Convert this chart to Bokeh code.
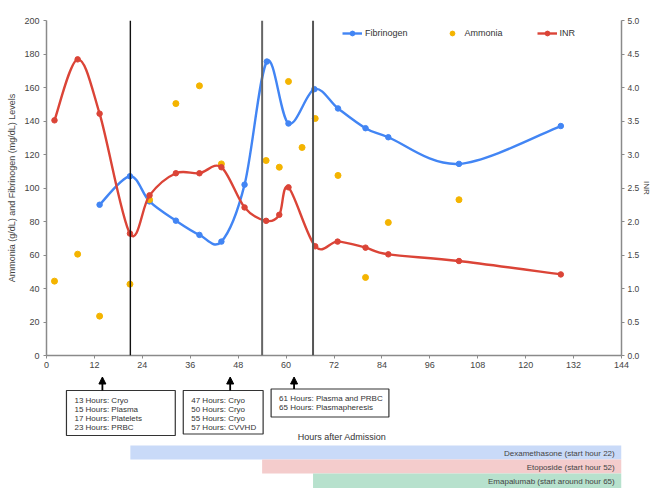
import numpy as np
from bokeh.plotting import figure
from bokeh.models import (Range1d, LinearAxis, FixedTicker, PrintfTickFormatter, Span,
                          Legend, LegendItem, Arrow, NormalHead)
from bokeh.layouts import column
from bokeh.embed import file_html
from bokeh.resources import INLINE
from bokeh.core.properties import value

# ---------------- data ----------------
fib_hours = [13.3, 20.9, 25.8, 32.4, 38.3, 43.8, 49.6, 55.2, 60.6, 67.1, 73.0, 79.9, 85.6, 103.3, 128.8]
fibrinogen = [90, 107, 92, 80.5, 72, 68, 102, 175.5, 138.5, 159, 147.5, 135.7, 130.3, 114.4, 137]

amm_hours = [2.0, 7.8, 13.3, 20.9, 25.8, 32.4, 38.3, 43.8, 55.0, 58.3, 60.6, 64.0, 67.3, 73.0, 79.9, 85.6, 103.3]
ammonia = [44.4, 60.5, 23.5, 42.6, 93, 150.4, 161, 114.4, 116.4, 112.4, 163.6, 124.2, 141.5, 107.5, 46.6, 79.4, 93]

inr_hours = [2.0, 7.8, 13.3, 20.9, 25.8, 32.4, 38.3, 43.8, 49.6, 55.0, 58.3, 60.6, 67.3, 72.9, 79.9, 85.6, 103.3, 128.8]
inr = [3.51, 4.42, 3.61, 1.82, 2.39, 2.72, 2.72, 2.81, 2.21, 2.01, 2.10, 2.51, 1.63, 1.70, 1.61, 1.51, 1.41, 1.21]

event_hours = [21, 54, 66.75]          # vertical marker lines / drug start
x_ticks = list(range(0, 145, 12))
left_ticks = list(range(0, 201, 20))
inr_ticks = [0.0, 0.5, 1.0, 1.5, 2.0, 2.5, 3.0, 3.5, 4.0, 4.5, 5.0]

arrow_hours = [14, 46, 62]
box_texts = [
    ["13 Hours: Cryo", "15 Hours: Plasma", "17 Hours: Platelets", "23 Hours: PRBC"],
    ["47 Hours: Cryo", "50 Hours: Cryo", "55 Hours: Cryo", "57 Hours: CVVHD"],
    ["61 Hours: Plasma and PRBC", "65 Hours: Plasmapheresis"],
]
drug_labels = ["Dexamethasone (start hour 22)", "Etoposide (start hour 52)",
               "Emapalumab (start around hour 65)"]
drug_start = event_hours

# ---------------- style / layout ----------------
FONT = "Liberation Sans"
BLUE, RED, YELLOW = "#4285F4", "#DB4437", "#F4B400"
BAR_COLORS = ["#c9daf8", "#f4cccc", "#b7e1cd"]
W = 654
LB, RB = 46, 33
H1, H2 = 375, 113


def smooth(xs, ys):
    """Cubic Bezier control points (Catmull-Rom style, like spreadsheet 'smooth line')."""
    x = np.asarray(xs, float)
    y = np.asarray(ys, float)
    px = np.concatenate([[x[0]], x, [x[-1]]])
    py = np.concatenate([[y[0]], y, [y[-1]]])
    i = np.arange(len(x) - 1)
    cx0 = px[i + 1] + (px[i + 2] - px[i]) / 6
    cy0 = py[i + 1] + (py[i + 2] - py[i]) / 6
    cx1 = px[i + 2] - (px[i + 3] - px[i + 1]) / 6
    cy1 = py[i + 2] - (py[i + 3] - py[i + 1]) / 6
    return dict(x0=x[:-1], y0=y[:-1], x1=x[1:], y1=y[1:], cx0=cx0, cy0=cy0, cx1=cx1, cy1=cy1)


p = figure(width=W, height=H1, x_range=Range1d(0, 144), y_range=Range1d(0, 200),
           output_backend="svg", toolbar_location=None,
           min_border_left=LB, min_border_right=RB, min_border_top=20, min_border_bottom=20)
p.outline_line_color = None
p.grid.visible = False
p.background_fill_color = "white"
p.extra_y_ranges = {"inr": Range1d(0, 5)}

ax_col = "#8a8a8a"
lab_col = "#444444"

xa = p.xaxis[0]
xa.ticker = FixedTicker(ticks=x_ticks)
ya = p.yaxis[0]
ya.ticker = FixedTicker(ticks=left_ticks)
ya.axis_label = "Ammonia (g/dL) and Fibrinogen (mg/dL) Levels"
ya.axis_label_standoff = 4

ra = LinearAxis(y_range_name="inr", ticker=FixedTicker(ticks=inr_ticks),
                formatter=PrintfTickFormatter(format="%.1f"))
ra.axis_label = "INR"
p.add_layout(ra, "right")

for ax in (xa, ya, ra):
    ax.axis_line_color = ax_col
    ax.axis_line_width = 1.5
    ax.major_tick_line_color = ax_col
    ax.major_tick_in = 0
    ax.major_tick_out = 3
    ax.minor_tick_line_color = None
    ax.major_label_text_font = FONT
    ax.major_label_text_font_size = "9px"
    ax.major_label_text_color = lab_col
    ax.major_label_standoff = 4
    ax.axis_label_text_font_style = "normal"
    ax.axis_label_text_font = FONT
    ax.axis_label_text_font_size = "9px"
    ax.axis_label_text_color = lab_col
xa.major_label_standoff = 3
ra.major_label_standoff = 3
ra.axis_label_standoff = 0
ra.major_label_text_font_size = "8.5px"
ra.axis_label_text_font_size = "8px"

for h, c, w in zip(event_hours, ["#111111", "#666666", "#555555"], [1.4, 2, 2]):
    p.add_layout(Span(location=h, dimension="height", line_color=c, line_width=w))

fib_line = p.bezier(source=smooth(fib_hours, fibrinogen), x0="x0", y0="y0", x1="x1", y1="y1",
                    cx0="cx0", cy0="cy0", cx1="cx1", cy1="cy1", line_color=BLUE, line_width=2.4)
fib_pts = p.scatter(fib_hours, fibrinogen, size=5.5, color=BLUE)
amm_pts = p.scatter(amm_hours, ammonia, size=6, color=YELLOW)
inr_line = p.bezier(source=smooth(inr_hours, inr), x0="x0", y0="y0", x1="x1", y1="y1",
                    cx0="cx0", cy0="cy0", cx1="cx1", cy1="cy1", line_color=RED, line_width=2.4,
                    y_range_name="inr")
inr_pts = p.scatter(inr_hours, inr, size=5.5, color=RED, y_range_name="inr")

legend = Legend(items=[LegendItem(label="Fibrinogen", renderers=[fib_line, fib_pts]),
                       LegendItem(label="Ammonia", renderers=[amm_pts]),
                       LegendItem(label="INR", renderers=[inr_line, inr_pts])],
                orientation="horizontal", location=(296, 316), spacing=34, padding=0, margin=0,
                glyph_width=20, glyph_height=12, label_height=12, label_standoff=3,
                border_line_color=None, background_fill_alpha=0,
                label_text_font=FONT, label_text_font_size="9px", label_text_color="#333333")
p.add_layout(legend)

# ---------------- lower panel: notes & drug bars ----------------
q = figure(width=W, height=H2, x_range=p.x_range, y_range=Range1d(H1 + H2, H1),
           output_backend="svg", toolbar_location=None, x_axis_location=None, y_axis_location=None,
           min_border_left=LB, min_border_right=RB, min_border_top=0, min_border_bottom=0)
q.outline_line_color = None
q.grid.visible = False

box_left = [5.0, 34.25, 56.25]
box_right = [32.25, 54.25, 85.75]
box_top = [390, 390, 388.5]
box_bottom = [435, 433.5, 416.5]
q.quad(left=box_left, right=box_right, top=box_top, bottom=box_bottom,
       fill_color="white", line_color="#333333", line_width=1.2)

tx, ty, tt = [], [], []
for lines, l, t in zip(box_texts, box_left, box_top):
    for k, s in enumerate(lines):
        tx.append(l + 2.0)
        ty.append(t + 9.5 + 9 * k)
        tt.append(s)
q.text(x=tx, y=ty, text=tt, text_font=value(FONT), text_font_size="8px",
       text_baseline="middle", text_align="left", text_color="#333333")

for h, t in zip(arrow_hours, box_top):
    q.add_layout(Arrow(end=NormalHead(size=7, fill_color="black", line_color="black"),
                       x_start=h, y_start=t, x_end=h, y_end=376.5,
                       line_width=1.8, line_color="black"))

q.text(x=[74.0], y=[436], text=["Hours after Admission"], text_font=value(FONT),
       text_font_size="9px", text_baseline="middle", text_align="center", text_color="#333333")

bar_y = [452, 466, 480.5]
q.hbar(y=bar_y, left=drug_start, right=[144] * 3, height=[14, 14, 15], fill_color=BAR_COLORS,
       line_color=None)
q.text(x=[142.3] * 3, y=[452.5, 466.5, 480.5], text=drug_labels, text_font=value(FONT),
       text_font_size="8px", text_baseline="middle", text_align="right", text_color="#444444")

layout = column(p, q)
open("out.html", "w").write(file_html(layout, INLINE))
